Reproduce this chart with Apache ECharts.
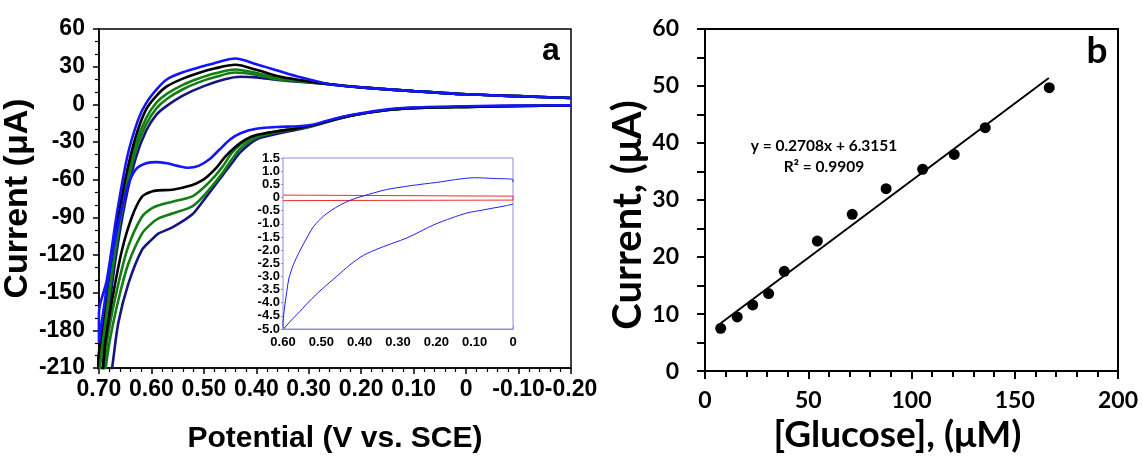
<!DOCTYPE html>
<html><head><meta charset="utf-8">
<script src="https://cdn.jsdelivr.net/npm/echarts@6/dist/echarts.min.js"></script>
<style>html,body{margin:0;padding:0;background:#fff}#c{width:1143px;height:459px}</style>
</head><body><div id="c"></div>
<script>
// ---------- Panel a: cyclic voltammograms [potential V, current µA] ----------
const cvBlue = [[-0.2,5],[-0.1,6.5],[0,8],[0.1,10.5],[0.2,13.5],[0.26,16],[0.32,22],[0.36,27],[0.40,32],[0.44,36.5],[0.47,34],[0.50,30.5],[0.54,25.5],[0.57,20],[0.59,12],[0.61,1],[0.625,-12],[0.645,-40],[0.665,-85],[0.685,-140],[0.70,-166],
  [0.70,-190],[0.69,-160],[0.675,-120],[0.66,-90],[0.645,-65],[0.63,-52],[0.61,-47],[0.59,-46],[0.57,-47],[0.55,-49],[0.53,-50.5],[0.51,-49],[0.49,-44],[0.47,-36],[0.45,-28],[0.43,-23],[0.40,-19.5],[0.36,-18],[0.32,-17.5],[0.29,-16],[0.26,-12.5],[0.22,-8.5],[0.15,-4],[0.1,-2.5],[0,-1.5],[-0.1,-1],[-0.2,-0.8]];
const cvBlack = [[-0.2,5],[-0.1,6.5],[0,8],[0.1,10.5],[0.2,13.5],[0.26,16],[0.32,19.5],[0.36,22.5],[0.40,27.5],[0.44,31.5],[0.48,28.5],[0.51,25],[0.54,20.5],[0.57,14.5],[0.59,7],[0.61,-4],[0.63,-26],[0.65,-60],[0.67,-105],[0.69,-165],[0.705,-225],
  [0.70,-240],[0.692,-210],[0.688,-190],[0.675,-156],[0.656,-116],[0.637,-89.5],[0.618,-73.6],[0.60,-69.5],[0.587,-68.5],[0.56,-68],[0.523,-64.5],[0.505,-61],[0.492,-57],[0.475,-50],[0.46,-42],[0.44,-34],[0.42,-28],[0.40,-24.5],[0.36,-21.5],[0.32,-19],[0.29,-16.5],[0.26,-13],[0.22,-9],[0.15,-4.5],[0.1,-3],[0,-2],[-0.1,-1.3],[-0.2,-1]];
const cvGreen1 = [[-0.2,5],[-0.1,6.5],[0,8],[0.1,10.5],[0.2,13.5],[0.26,16],[0.32,19],[0.36,21],[0.40,25],[0.44,27.8],[0.48,24.5],[0.51,20.5],[0.54,15.5],[0.57,8.5],[0.59,1.5],[0.61,-11],[0.63,-32],[0.65,-66],[0.67,-112],[0.69,-175],[0.70,-215],
  [0.70,-245],[0.69,-210],[0.682,-182],[0.663,-143],[0.644,-113],[0.618,-89.5],[0.60,-83],[0.587,-80.5],[0.56,-77.5],[0.523,-73.5],[0.505,-68],[0.485,-60],[0.465,-50],[0.447,-39],[0.43,-32],[0.40,-25],[0.36,-21.5],[0.32,-19],[0.29,-16.5],[0.26,-13],[0.22,-9],[0.15,-4.5],[0.1,-3],[0,-2],[-0.1,-1.3],[-0.2,-1]];
const cvGreen2 = [[-0.2,5],[-0.1,6.5],[0,8],[0.1,10.5],[0.2,13.5],[0.26,16],[0.32,18.5],[0.36,20],[0.40,23.5],[0.44,25.3],[0.48,21.5],[0.51,17.5],[0.54,12],[0.57,4.5],[0.59,-3],[0.61,-16],[0.63,-37],[0.65,-72],[0.67,-120],[0.69,-185],[0.70,-220],
  [0.70,-250],[0.68,-190],[0.663,-156],[0.644,-127],[0.618,-103],[0.60,-95],[0.587,-91],[0.56,-87],[0.523,-81.5],[0.505,-75],[0.485,-65.5],[0.465,-55],[0.447,-44],[0.43,-35],[0.40,-26.5],[0.36,-22],[0.32,-19.5],[0.29,-16.8],[0.26,-13.2],[0.22,-9],[0.15,-4.5],[0.1,-3],[0,-2],[-0.1,-1.3],[-0.2,-1]];
const cvNavy = [[-0.2,5],[-0.1,6.5],[0,8],[0.1,10.5],[0.2,13.5],[0.26,16],[0.32,18],[0.36,19.5],[0.40,21.5],[0.43,22],[0.46,20],[0.50,14.5],[0.54,7],[0.57,-1],[0.59,-8],[0.61,-21],[0.63,-43],[0.65,-78],[0.67,-128],[0.685,-180],[0.695,-225],
  [0.695,-260],[0.675,-210],[0.663,-174],[0.644,-143],[0.618,-116],[0.60,-108],[0.587,-103],[0.56,-98],[0.523,-88],[0.505,-79],[0.485,-68],[0.465,-57],[0.447,-47],[0.43,-38],[0.40,-28],[0.36,-23.5],[0.32,-20],[0.29,-17],[0.26,-13.5],[0.22,-9],[0.15,-4.5],[0.1,-3],[0,-2],[-0.1,-1.3],[-0.2,-1]];

// inset (bare electrode / control)
const insetBlue = [[0,0.58],[0,0.68],[0.05,0.72],[0.1,0.75],[0.15,0.68],[0.19,0.59],[0.24,0.5],[0.28,0.42],[0.33,0.3],[0.364,0.17],[0.39,0.06],[0.42,-0.08],[0.45,-0.28],[0.475,-0.5],[0.495,-0.72],[0.52,-1.1],[0.538,-1.54],[0.555,-2.0],[0.573,-2.56],[0.585,-3.1],[0.59,-3.57],[0.597,-4.3],[0.6,-4.9],[0.598,-4.98],
  [0.59,-4.85],[0.556,-4.33],[0.525,-3.85],[0.495,-3.44],[0.46,-3.0],[0.425,-2.56],[0.39,-2.2],[0.347,-1.92],[0.31,-1.72],[0.277,-1.54],[0.24,-1.28],[0.207,-1.04],[0.16,-0.78],[0.12,-0.59],[0.08,-0.48],[0.051,-0.40],[0.02,-0.32],[0,-0.25]];
const insetRed = [[0.6,0.09],[0.3,0.07],[0,0.05],[0,-0.1],[0.3,-0.11],[0.6,-0.12]];

// ---------- Panel b: calibration ----------
const glucose = [7.6,15.6,23.1,30.8,38.4,54.4,71.3,87.7,105.4,120.7,135.7,166.7];
const currentB = [7.5,9.5,11.6,13.6,17.5,22.8,27.5,32.0,35.4,38.0,42.7,49.7];
const fitX = [7.6,166.5];
const fitY = [8.4,51.4];
const fitText = ['y = 0.2708x + 6.3151','R\u00B2 = 0.9909'];

const fA = "'Liberation Sans',Arial,sans-serif";
const fB = "Lato,'Open Sans',sans-serif";

function fmt2(v){ if (Math.abs(v)<1e-9) return '0'; return v.toFixed(2); }
function fmt1(v){ if (Math.abs(v)<1e-9) return '0'; return v.toFixed(1); }

const chart = echarts.init(document.getElementById('c'), null, {renderer:'canvas'});
const cvLine = (data, color, w, xi, yi, z) => ({type:'line', data, xAxisIndex:xi, yAxisIndex:yi, showSymbol:false, symbol:'none', smooth:0.3, clip:true, z:z||2,
  lineStyle:{color, width:w}, animation:false});

chart.setOption({
  animation:false,
  grid:[
    {left:97, top:29, width:474, height:339, show:true, borderColor:'#000', borderWidth:1.5, backgroundColor:'transparent'},
    {left:283, top:158, width:230, height:171, show:true, borderColor:'#8c8ce0', borderWidth:1, backgroundColor:'#fff', z:5},
    {left:705, top:29, width:413, height:351, show:true, borderColor:'#000', borderWidth:2, backgroundColor:'transparent'}
  ],
  xAxis:[
    {gridIndex:0, type:'value', min:-0.2, max:0.7, interval:0.1, inverse:true,
     name:'Potential (V vs. SCE)', nameLocation:'middle', nameGap:56,
     nameTextStyle:{fontFamily:fA, fontWeight:'bold', fontSize:30, color:'#000'},
     axisLine:{show:true, onZero:false, lineStyle:{color:'#000', width:1.5}},
     axisTick:{show:true, inside:false, length:6, lineStyle:{color:'#000', width:1.5}},
     minorTick:{show:true, splitNumber:5, length:4, lineStyle:{color:'#000', width:1.2}},
     splitLine:{show:false},
     axisLabel:{formatter:fmt2, fontFamily:fA, fontWeight:'bold', fontSize:23, color:'#000', margin:10, hideOverlap:false, showMinLabel:true, showMaxLabel:true}},
    {gridIndex:1, type:'value', min:0, max:0.6, interval:0.1, inverse:true,
     axisLine:{show:true, onZero:false, lineStyle:{color:'#8c8ce0', width:1}},
     axisTick:{show:true, inside:true, length:3, lineStyle:{color:'#8c8ce0'}},
     minorTick:{show:true, splitNumber:3, length:2, lineStyle:{color:'#8c8ce0'}},
     splitLine:{show:false},
     axisLabel:{formatter:fmt2, fontFamily:fA, fontWeight:'bold', fontSize:13, color:'#000', margin:7, showMinLabel:true, showMaxLabel:true, hideOverlap:false}},
    {gridIndex:2, type:'value', min:0, max:200, interval:50,
     name:'[Glucose], (\u03BCM)', nameLocation:'middle', nameGap:45,
     nameTextStyle:{fontFamily:fB, fontWeight:'bold', fontSize:37, color:'#000', padding:[0,28,0,0]},
     axisLine:{show:true, onZero:false, lineStyle:{color:'#000', width:2}},
     axisTick:{show:true, inside:false, length:8, lineStyle:{color:'#000', width:2}},
     minorTick:{show:true, splitNumber:5, length:6, lineStyle:{color:'#000', width:2}},
     splitLine:{show:false},
     axisLabel:{fontFamily:fB, fontWeight:'bold', fontSize:23, color:'#000', margin:18, showMinLabel:true, showMaxLabel:true}}
  ],
  yAxis:[
    {gridIndex:0, type:'value', min:-210, max:60, interval:30,
     name:'Current (\u03BCA)', nameLocation:'middle', nameGap:58,
     nameTextStyle:{fontFamily:fA, fontWeight:'bold', fontSize:34, color:'#000'},
     axisLine:{show:true, onZero:false, lineStyle:{color:'#000', width:1.5}},
     axisTick:{show:true, inside:false, length:6, lineStyle:{color:'#000', width:1.5}},
     minorTick:{show:true, splitNumber:3, length:4, lineStyle:{color:'#000', width:1.2}},
     splitLine:{show:false},
     axisLabel:{fontFamily:fA, fontWeight:'bold', fontSize:23, color:'#000', margin:14, showMinLabel:true, showMaxLabel:true}},
    {gridIndex:1, type:'value', min:-5, max:1.5, interval:0.5,
     axisLine:{show:true, onZero:false, lineStyle:{color:'#8c8ce0', width:1}},
     axisTick:{show:true, inside:false, length:2, lineStyle:{color:'#8c8ce0'}},
     splitLine:{show:false},
     axisLabel:{formatter:fmt1, fontFamily:fA, fontWeight:'bold', fontSize:13, lineHeight:13, color:'#000', margin:3, showMinLabel:true, showMaxLabel:true, hideOverlap:false}},
    {gridIndex:2, type:'value', min:0, max:60, interval:10,
     name:'Current, (\u03BCA)', nameLocation:'middle', nameGap:56,
     nameTextStyle:{fontFamily:fB, fontWeight:'bold', fontSize:40, color:'#000', padding:[0,30,0,0]},
     axisLine:{show:true, onZero:false, lineStyle:{color:'#000', width:2}},
     axisTick:{show:true, inside:false, length:8, lineStyle:{color:'#000', width:2}},
     minorTick:{show:true, splitNumber:2, length:8, lineStyle:{color:'#000', width:2}},
     splitLine:{show:false},
     axisLabel:{fontFamily:fB, fontWeight:'bold', fontSize:23, color:'#000', margin:26, showMinLabel:true, showMaxLabel:true}}
  ],
  series:[
    cvLine(cvNavy,'#15157e',2.6,0,0),
    cvLine(cvGreen2,'#157d15',2.6,0,0),
    cvLine(cvGreen1,'#157d15',2.6,0,0),
    cvLine(cvBlack,'#000000',2.6,0,0),
    cvLine(cvBlue,'#1414ff',2.6,0,0),
    Object.assign(cvLine(insetRed,'#ee3030',1,1,1,10),{smooth:false}),
    cvLine(insetBlue,'#2020ee',1,1,1,10),
    {type:'line', xAxisIndex:2, yAxisIndex:2, data:fitX.map((x,i)=>[x,fitY[i]]), showSymbol:false, symbol:'none',
     lineStyle:{color:'#000', width:2}, z:2},
    {type:'scatter', xAxisIndex:2, yAxisIndex:2, data:glucose.map((x,i)=>[x,currentB[i]]), symbol:'circle', symbolSize:11,
     itemStyle:{color:'#000', opacity:1}, z:3}
  ],
  graphic:[
    {type:'text', x:551, y:51, z:20, style:{text:'a', fontFamily:fA, fontWeight:'bold', fontSize:32, fill:'#000', textAlign:'center', textVerticalAlign:'middle'}},
    {type:'text', x:1097, y:51, z:20, style:{text:'b', fontFamily:fB, fontWeight:'bold', fontSize:37, fill:'#000', textAlign:'center', textVerticalAlign:'middle'}},
    {type:'text', x:824, y:146, z:20, style:{text:fitText[0], fontFamily:fB, fontWeight:'bold', fontSize:15.5, fill:'#000', textAlign:'center', textVerticalAlign:'middle'}},
    {type:'text', x:824, y:167, z:20, style:{text:fitText[1], fontFamily:fB, fontWeight:'bold', fontSize:15.5, fill:'#000', textAlign:'center', textVerticalAlign:'middle'}}
  ]
});
</script></body></html>
